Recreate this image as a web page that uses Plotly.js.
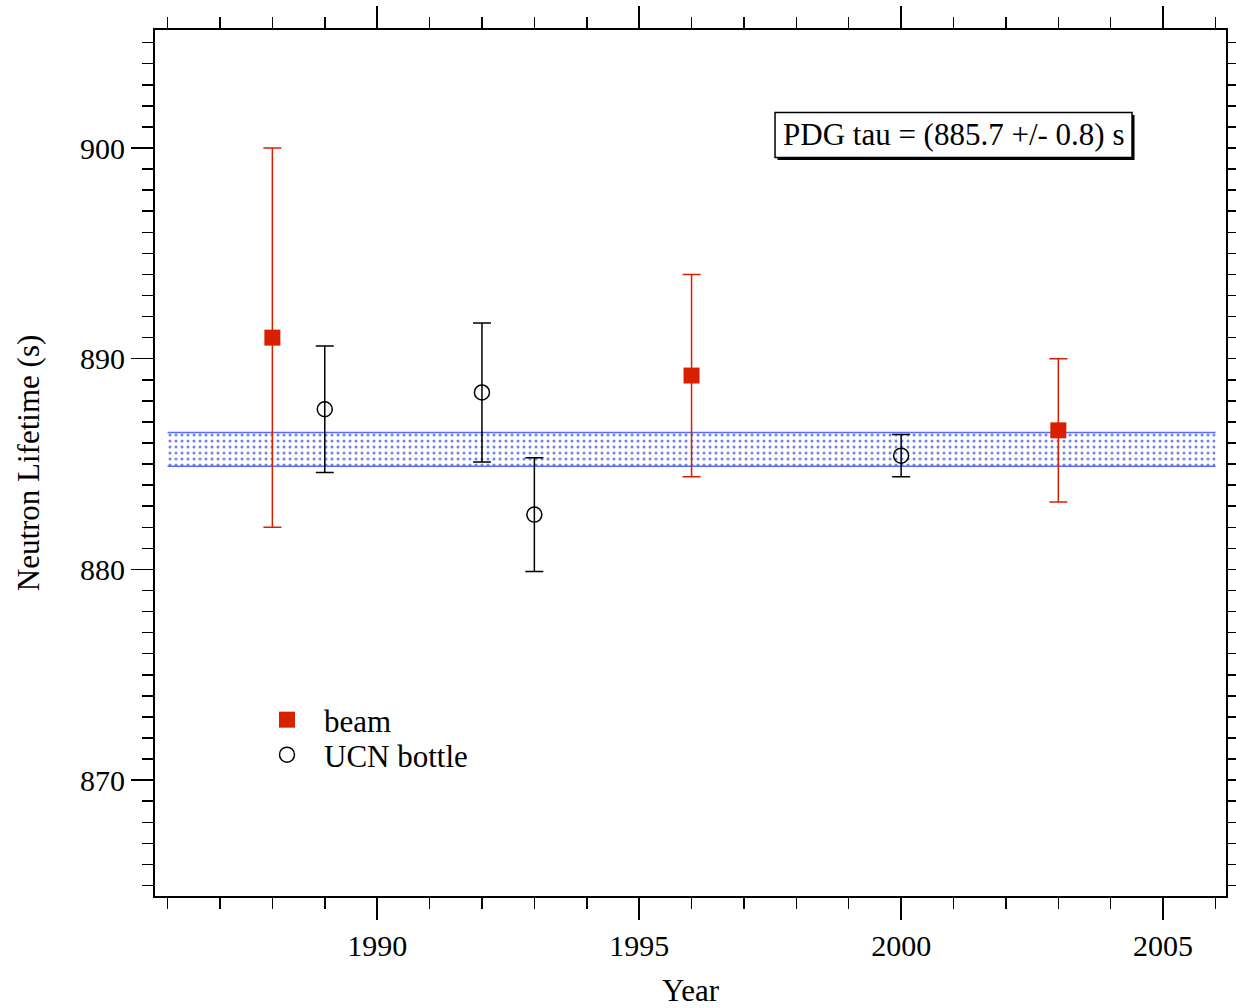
<!DOCTYPE html>
<html>
<head>
<meta charset="utf-8">
<script src="https://cdn.plot.ly/plotly-3.0.1.min.js"></script>
<style>html,body{margin:0;padding:0;background:#fff;}#chart{width:1236px;height:1008px;}</style>
</head>
<body>
<div id="chart"></div>
<script>
// Data
const beamYears = [1988, 1996, 2003];
const beamTau   = [891.0, 889.2, 886.6];
const beamErr   = [9.0, 4.8, 3.4];

const ucnYears = [1989, 1992, 1993, 2000];
const ucnTau   = [887.6, 888.4, 882.6, 885.4];
const ucnErr   = [3.0, 3.3, 2.7, 1.0];

const pdgTau = 885.7;
const pdgErr = 0.8;
const bandYears = [1986, 2006];
const pdgLabel = "PDG tau = (885.7 +/- 0.8) s";

const FONT = "Liberation Serif, Times New Roman, serif";
const RED = "#d82000";

const traces = [
  {
    x: bandYears, y: bandYears.map(() => pdgTau - pdgErr),
    mode: "lines", line: {color: "#5a6cf2", width: 1.5},
    showlegend: false, hoverinfo: "skip"
  },
  {
    x: bandYears, y: bandYears.map(() => pdgTau + pdgErr),
    mode: "lines", line: {color: "#5a6cf2", width: 1.5},
    fill: "tonexty", fillcolor: "rgba(0,0,0,0)",
    fillpattern: {shape: ".", fgcolor: "#6f80f0", bgcolor: "#ffffff", size: 6, solidity: 0.2},
    showlegend: false, hoverinfo: "skip"
  },
  {
    name: "beam", x: beamYears, y: beamTau, mode: "markers", type: "scatter", legend: "legend",
    marker: {symbol: "square", size: 16, color: RED},
    error_y: {type: "data", array: beamErr, visible: true, color: RED, thickness: 1.5, width: 9}
  },
  {
    name: "UCN bottle", x: ucnYears, y: ucnTau, mode: "markers", type: "scatter", legend: "legend2",
    marker: {symbol: "circle-open", size: 15, color: "#000", line: {width: 1.5, color: "#000"}},
    error_y: {type: "data", array: ucnErr, visible: true, color: "#000", thickness: 1.5, width: 9}
  }
];

const legendBase = {
  xanchor: "left", yanchor: "top", bgcolor: "rgba(0,0,0,0)", borderwidth: 0,
  font: {family: FONT, size: 31, color: "#000"}, itemsizing: "trace", itemwidth: 64
};

const layout = {
  width: 1236, height: 1008,
  margin: {l: 155, r: 10, t: 30, b: 112},
  paper_bgcolor: "#fff", plot_bgcolor: "#fff",
  font: {family: FONT, size: 31, color: "#000"},
  showlegend: true,
  legend: Object.assign({}, legendBase, {x: 0.0887, y: 0.2344}),
  legend2: Object.assign({}, legendBase, {x: 0.0887, y: 0.194}),
  xaxis: {
    range: [1985.76, 2006.2], showgrid: false, zeroline: false,
    showline: true, linecolor: "#000", linewidth: 2, mirror: "ticks",
    ticks: "outside", ticklen: 22, tickwidth: 1.5, tickcolor: "#000",
    tick0: 1990, dtick: 5, tickfont: {family: FONT, size: 30},
    minor: {ticks: "outside", ticklen: 11, tickwidth: 1.5, tickcolor: "#000", tick0: 1986, dtick: 1, showgrid: false},
    title: {text: "Year", font: {family: FONT, size: 31}, standoff: 22}
  },
  yaxis: {
    range: [864.5, 905.6], showgrid: false, zeroline: false,
    showline: true, linecolor: "#000", linewidth: 2, mirror: "ticks",
    ticks: "outside", ticklen: 22, tickwidth: 1.5, tickcolor: "#000",
    tick0: 870, dtick: 10, tickfont: {family: FONT, size: 30},
    minor: {ticks: "outside", ticklen: 11, tickwidth: 1.5, tickcolor: "#000", dtick: 1, showgrid: false},
    title: {text: "Neutron Lifetime (s)", font: {family: FONT, size: 31}, standoff: 31}
  },
  shapes: [
    {
      type: "rect", xref: "x", yref: "y", xsizemode: "pixel", ysizemode: "pixel",
      xanchor: 2001, yanchor: 900.62, x0: -176, x1: 181, y0: -25, y1: 20,
      fillcolor: "#000", line: {width: 0}, layer: "above"
    },
    {
      type: "rect", xref: "x", yref: "y", xsizemode: "pixel", ysizemode: "pixel",
      xanchor: 2001, yanchor: 900.62, x0: -178.5, x1: 178.5, y0: -22.5, y1: 22.5,
      fillcolor: "#fff", line: {width: 1.5, color: "#000"}, layer: "above"
    }
  ],
  annotations: [
    {
      x: 2001, y: 900.62, xref: "x", yref: "y", showarrow: false,
      text: pdgLabel, font: {family: FONT, size: 31, color: "#000"}
    }
  ]
};

Plotly.newPlot("chart", traces, layout, {displayModeBar: false, staticPlot: true});
</script>
</body>
</html>
